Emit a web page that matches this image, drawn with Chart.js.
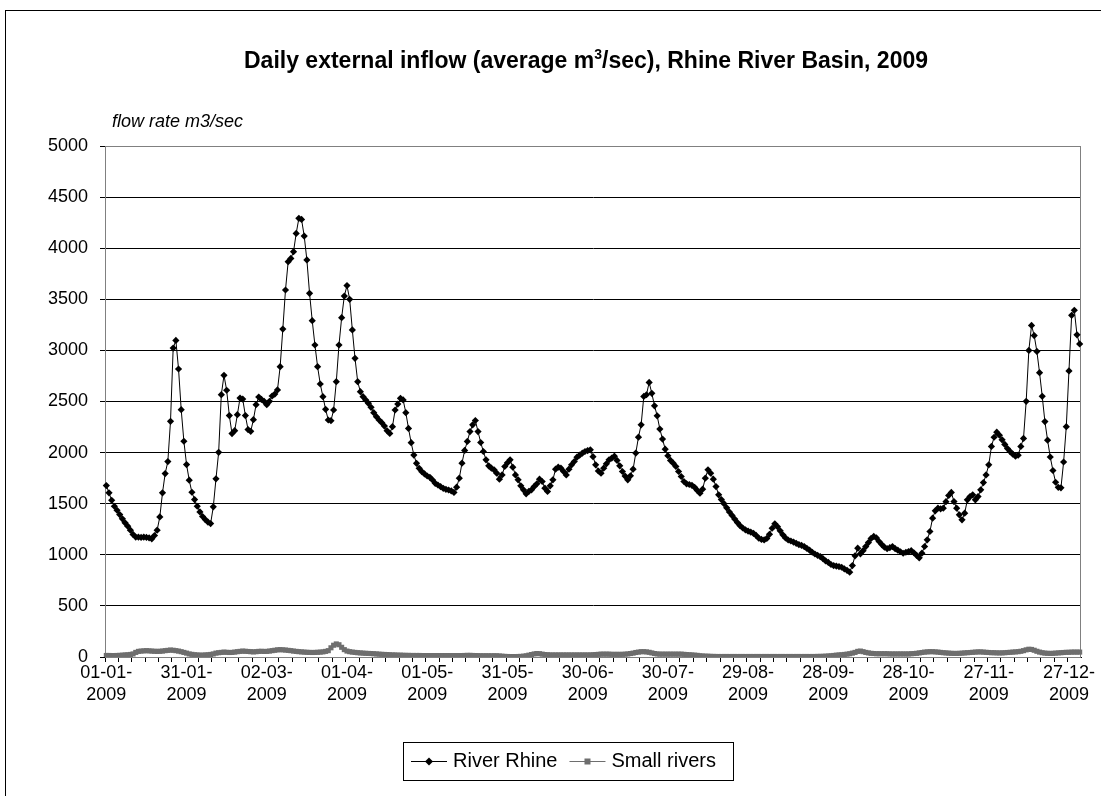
<!DOCTYPE html>
<html>
<head>
<meta charset="utf-8">
<title>Rhine River Basin inflow 2009</title>
<script src="https://cdn.jsdelivr.net/npm/chart.js@4.4.1/dist/chart.umd.min.js"></script>
<style>
  html, body { margin: 0; padding: 0; background: #ffffff; }
  canvas { display: block; }
</style>
</head>
<body>
<canvas id="chart" width="1101" height="796"></canvas>
<script>
// Daily average inflow (m3/sec), one array per month of 2009
const rhineJan = [1677,1606,1534,1475,1436,1394,1352,1313,1280,1241,1199,1173,1173,1170,1173,1170,1166,1156,1189,1241,1371,1606,1795,1912,2306,3023,3098,2818,2420,2111,1883];
const rhineFeb = [1730,1612,1540,1475,1420,1375,1345,1320,1306,1469,1743,2003,2567,2756,2610,2362,2186,2215,2371,2534,2524,2362,2225,2208,2322,2469,2544,2520];
const rhineMar = [2502,2469,2502,2554,2573,2613,2841,3209,3591,3868,3900,3966,4145,4292,4282,4119,3885,3558,3291,3053,2841,2671,2547,2423,2319,2312,2417,2694,3053,3320,3532];
const rhineApr = [3634,3500,3200,2922,2694,2596,2547,2515,2482,2443,2391,2352,2319,2293,2260,2214,2188,2254,2417,2475,2531,2515,2391,2237,2097,1976,1895,1846,1813,1791];
const rhineMay = [1771,1758,1732,1699,1683,1667,1650,1641,1634,1625,1610,1662,1750,1897,2021,2109,2206,2272,2314,2206,2099,2011,1929,1871,1848,1831,1799,1740,1782,1864,1900];
const rhineJun = [1929,1857,1782,1734,1675,1636,1597,1620,1636,1668,1694,1740,1717,1652,1620,1675,1734,1838,1857,1848,1815,1782,1838,1880,1913,1955,1975,1994,2011,2020];
const rhineJul = [2027,1960,1880,1820,1799,1848,1890,1929,1945,1965,1923,1871,1815,1770,1734,1773,1838,1995,2151,2272,2550,2566,2687,2580,2458,2360,2230,2132,2034,1969,1923];
const rhineAug = [1897,1864,1815,1766,1717,1694,1688,1680,1660,1630,1603,1642,1750,1832,1799,1740,1668,1587,1540,1500,1460,1420,1385,1350,1315,1285,1262,1244,1232,1222,1210];
const rhineSep = [1190,1163,1150,1146,1160,1200,1260,1303,1275,1235,1195,1165,1145,1135,1125,1112,1100,1092,1080,1062,1045,1025,1008,995,982,962,940,925,905,895];
const rhineOct = [890,885,878,862,848,830,895,990,1065,1010,1040,1080,1120,1160,1180,1165,1130,1100,1075,1060,1070,1080,1060,1045,1030,1015,1025,1032,1040,1020,995];
const rhineNov = [970,1016,1081,1147,1228,1358,1430,1456,1450,1456,1520,1580,1610,1521,1456,1391,1342,1407,1538,1570,1587,1538,1570,1636,1707,1782,1880,2060,2150,2200];
const rhineDec = [2170,2125,2080,2040,2010,1985,1965,1975,2060,2139,2502,3000,3244,3145,2990,2782,2551,2304,2122,1957,1825,1710,1660,1655,1908,2254,2799,3343,3393,3152,3063];

const smallJan = [15,15,14,14,15,16,18,20,22,25,30,45,55,58,60,62,60,58,56,55,56,58,62,65,68,66,62,58,52,45,38];
const smallFeb = [30,26,22,20,18,18,20,22,25,30,38,42,45,48,46,44,45,48,52,55,58,56,54,52,50,52,55,56];
const smallMar = [54,55,58,62,66,70,72,70,68,65,62,58,55,52,50,48,46,45,44,45,46,48,50,55,62,90,115,128,120,95,72];
const smallApr = [58,52,48,45,42,40,38,36,35,34,32,30,28,26,25,24,22,20,20,18,18,17,16,16,15,15,15,15,14,14];
const smallMay = [14,14,14,14,14,14,14,14,14,14,14,14,14,14,15,16,16,15,14,13,12,12,12,12,12,12,12,10,8,6,5];
const smallJun = [4,4,4,5,6,8,12,18,24,30,34,32,28,24,22,20,20,20,20,20,20,20,20,20,20,20,20,20,20,20];
const smallJul = [20,22,24,26,28,28,28,28,26,26,26,26,26,28,30,34,38,44,48,52,52,50,46,40,34,30,28,28,28,28,28];
const smallAug = [28,28,28,28,26,24,22,20,18,16,12,10,8,8,6,6,5,5,5,5,5,5,5,5,5,5,5,5,5,5,5];
const smallSep = [5,5,5,5,5,5,5,5,5,5,5,5,5,5,5,5,5,5,5,5,5,5,5,6,6,7,8,10,12,15];
const smallOct = [18,20,22,25,28,32,38,45,55,58,52,45,40,36,34,32,32,32,32,32,30,30,30,30,30,30,30,30,32,34,36];
const smallNov = [40,44,48,50,52,52,50,48,45,42,40,38,36,35,35,36,38,40,42,44,46,48,50,50,48,46,44,42,42,40];
const smallDec = [40,40,42,44,46,48,50,52,56,62,70,76,74,66,56,48,42,38,36,35,36,38,40,42,44,46,46,48,48,48,48];

// Category labels shown on the horizontal axis (every 30th day)
const tickLabels = ['01-01-2009','31-01-2009','02-03-2009','01-04-2009','01-05-2009','31-05-2009',
                    '30-06-2009','30-07-2009','29-08-2009','28-09-2009','28-10-2009','27-11-2009','27-12-2009'];
const seriesNames = ['River Rhine', 'Small rivers'];
const titleText = ['Daily external inflow (average m', '3', '/sec), Rhine River Basin, 2009'];
const axisTitle = 'flow rate m3/sec';

const rhine = [].concat(rhineJan, rhineFeb, rhineMar, rhineApr, rhineMay, rhineJun,
                        rhineJul, rhineAug, rhineSep, rhineOct, rhineNov, rhineDec);
const small = [].concat(smallJan, smallFeb, smallMar, smallApr, smallMay, smallJun,
                        smallJul, smallAug, smallSep, smallOct, smallNov, smallDec);

// one category per calendar day of 2009
const pad2 = n => (n < 10 ? '0' : '') + n;
const days = rhine.map((_, i) => {
  const d = new Date(Date.UTC(2009, 0, 1 + i));
  return pad2(d.getUTCDate()) + '-' + pad2(d.getUTCMonth() + 1) + '-' + d.getUTCFullYear();
});

const FONT = 'Arial, "Liberation Sans", Helvetica, sans-serif';
const RHINE_COLOR = '#000000';
const SMALL_COLOR = '#6e6e6e';

// Frame, title, axis caption and legend box drawn around the plot
const decorations = {
  id: 'decorations',
  beforeDatasetsDraw(chart) {
    const { ctx, chartArea: a } = chart;
    ctx.save();
    ctx.strokeStyle = '#808080';
    ctx.lineWidth = 1;
    ctx.strokeRect(a.left + 0.5, a.top + 0.5, a.right - a.left - 1, a.bottom - a.top);
    ctx.restore();
  },
  afterDraw(chart) {
    const { ctx } = chart;
    ctx.save();
    // outer chart border
    ctx.strokeStyle = '#000';
    ctx.lineWidth = 1;
    ctx.strokeRect(5.5, 10.5, 2000, 2000);

    // title with superscript
    ctx.fillStyle = '#000';
    ctx.textBaseline = 'alphabetic';
    const bigFont = 'bold 23px ' + FONT;
    const supFont = 'bold 14px ' + FONT;
    ctx.font = bigFont;
    const w0 = ctx.measureText(titleText[0]).width;
    const w2 = ctx.measureText(titleText[2]).width;
    ctx.font = supFont;
    const w1 = ctx.measureText(titleText[1]).width;
    const total = w0 + w1 + w2;
    let x = 586 - total / 2;
    const base = 68;
    ctx.font = bigFont; ctx.textAlign = 'left';
    ctx.fillText(titleText[0], x, base); x += w0;
    ctx.font = supFont;
    ctx.fillText(titleText[1], x, base - 9); x += w1;
    ctx.font = bigFont;
    ctx.fillText(titleText[2], x, base);

    // vertical axis caption
    ctx.font = 'italic 18px ' + FONT;
    ctx.textBaseline = 'middle';
    ctx.fillText(axisTitle, 112, 122);

    // legend
    const lx = 403, ly = 742, lw = 330, lh = 38;
    ctx.strokeStyle = '#000';
    ctx.strokeRect(lx + 0.5, ly + 0.5, lw, lh);
    const cy = ly + lh / 2 + 0.5;
    ctx.font = '20px ' + FONT;
    ctx.textBaseline = 'middle';
    // River Rhine
    ctx.strokeStyle = RHINE_COLOR; ctx.lineWidth = 1;
    ctx.beginPath(); ctx.moveTo(lx + 8, cy); ctx.lineTo(lx + 44, cy); ctx.stroke();
    ctx.fillStyle = RHINE_COLOR;
    ctx.beginPath(); ctx.moveTo(lx + 26, cy - 4); ctx.lineTo(lx + 30, cy); ctx.lineTo(lx + 26, cy + 4); ctx.lineTo(lx + 22, cy); ctx.closePath(); ctx.fill();
    ctx.fillStyle = '#000';
    ctx.fillText(seriesNames[0], lx + 50, cy);
    const t1 = ctx.measureText(seriesNames[0]).width;
    // Small rivers
    const sx = lx + 50 + t1 + 12;
    ctx.strokeStyle = SMALL_COLOR;
    ctx.beginPath(); ctx.moveTo(sx, cy); ctx.lineTo(sx + 36, cy); ctx.stroke();
    ctx.fillStyle = SMALL_COLOR;
    ctx.fillRect(sx + 15, cy - 3, 6, 6);
    ctx.fillStyle = '#000';
    ctx.fillText(seriesNames[1], sx + 42, cy);
    ctx.restore();
  }
};

new Chart(document.getElementById('chart'), {
  type: 'line',
  data: {
    labels: days,
    datasets: [
      {
        label: seriesNames[0],
        data: rhine,
        borderColor: RHINE_COLOR,
        borderWidth: 1,
        pointStyle: 'rectRot',
        pointRadius: 3.6,
        pointBackgroundColor: RHINE_COLOR,
        pointBorderColor: RHINE_COLOR,
        pointBorderWidth: 0,
        tension: 0,
        order: 0
      },
      {
        label: seriesNames[1],
        data: small,
        borderColor: SMALL_COLOR,
        borderWidth: 1,
        pointStyle: 'rect',
        pointRadius: 3.6,
        pointBackgroundColor: SMALL_COLOR,
        pointBorderColor: SMALL_COLOR,
        pointBorderWidth: 0,
        tension: 0,
        order: 1
      }
    ]
  },
  options: {
    responsive: false,
    animation: false,
    devicePixelRatio: 1,
    layout: { padding: { left: 0, top: 146, right: 20, bottom: 79 } },
    plugins: {
      legend: { display: false },
      title: { display: false },
      tooltip: { enabled: false }
    },
    scales: {
      x: {
        type: 'category',
        offset: true,
        afterFit(scale) { scale.height = 60; scale.paddingLeft = 0; scale.paddingRight = 0; },
        border: { display: true, color: '#000', width: 1 },
        grid: {
          offset: true,
          drawOnChartArea: false,
          drawTicks: true,
          tickLength: 5,
          color: c => (c.index % 5 === 0 ? '#000' : 'rgba(0,0,0,0)')
        },
        ticks: {
          autoSkip: false,
          maxRotation: 0,
          minRotation: 0,
          padding: 0,
          color: '#000',
          font: { family: FONT, size: 18, lineHeight: 1.22 },
          callback(value, index) {
            if (index % 30 !== 0) return '';
            const t = tickLabels[index / 30];
            return t ? [t.slice(0, 6), t.slice(6)] : '';
          }
        }
      },
      y: {
        min: 0,
        max: 5000,
        afterFit(scale) { scale.width = 105; scale.paddingTop = 0; scale.paddingBottom = 0; },
        border: { display: true, color: '#000', width: 1 },
        grid: { color: '#000', lineWidth: 1, tickLength: 5 },
        ticks: {
          stepSize: 500,
          padding: 12,
          color: '#000',
          font: { family: FONT, size: 18 },
          callback: v => String(v)
        }
      }
    }
  },
  plugins: [decorations]
});
</script>
</body>
</html>
